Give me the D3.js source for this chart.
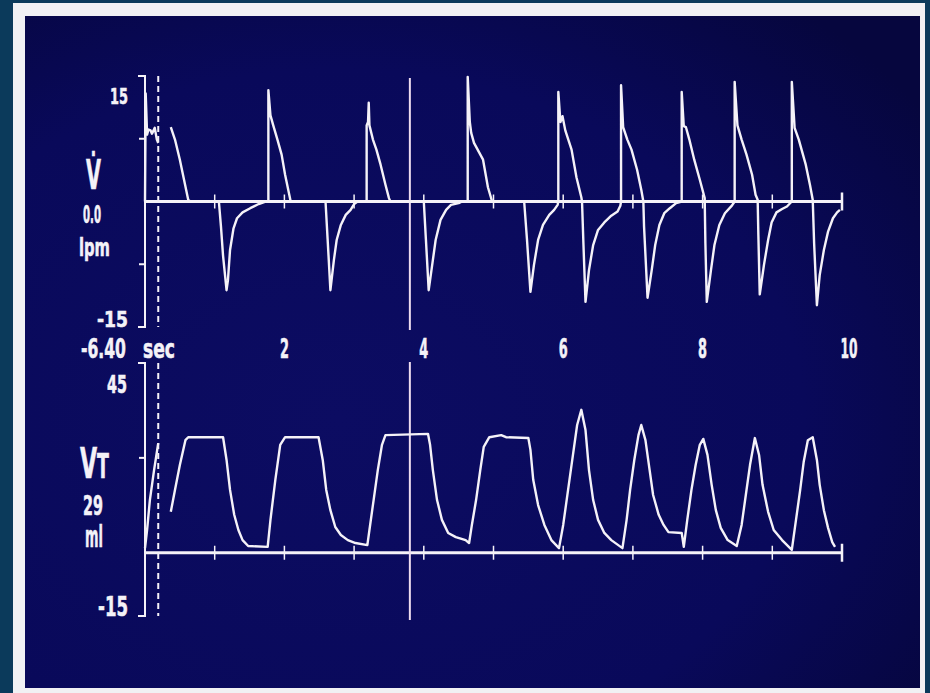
<!DOCTYPE html>
<html>
<head>
	<meta charset="utf-8" />
	<style>
		body {
			margin: 0;
			background-color: #0b3a5b;
			overflow: hidden;
		}
		svg {
			display: block;
		}
		.lbl {
			fill: #f4f2f8;
			stroke: #f4f2f8;
			stroke-width: 0.6;
			font-family: 'DejaVu Sans', sans-serif;
			font-weight: bold;
		}
	</style>
</head>
<body>
	<div id="chart-area"></div>

	<script src="https://cdnjs.cloudflare.com/ajax/libs/d3/7.8.5/d3.min.js"></script>

	<script>
		// time axis (sec) and the two y ranges
		const timeDomain = [0, 10];
		const timeLabels = [2, 4, 6, 8, 10];
		const secTicks = [1, 2, 3, 4, 5, 6, 7, 8, 9];
		const flowDomain = [-15, 15];
		const flowMidTicks = [-7.5, 7.5];
		const volDomain = [-15, 45];
		const volMidTicks = [22.5];
		const sweepTime = 0.19; // dashed line, where the trace is written
		const cursorTime = 3.8; // solid cursor line

		// flow (lpm): [sec, value]. freshly written part, then older sweep
		const flowNew = [
			[0.0, 0], [0.01, 12.9], [0.03, 8.0], [0.05, 8.6], [0.08, 8.5], [0.1, 8.1],
			[0.14, 8.8], [0.17, 7.4], [0.19, 7.0]
		];
		const flowOld = [
			[0.37, 8.9], [0.43, 7.4], [0.5, 5.0], [0.56, 2.6], [0.62, 0.2], [0.65, 0],
			[1.06, 0], [1.09, -3.0], [1.12, -6.5], [1.17, -10.6], [1.19, -9.4], [1.22, -5.8], [1.27, -3.2],
			[1.32, -2.0], [1.4, -1.3], [1.51, -0.8], [1.63, -0.3], [1.73, 0],
			[1.77, 0], [1.77, 13.3], [1.8, 10.3], [1.84, 9.1], [1.9, 7.4], [1.96, 5.6], [2.01, 3.2], [2.07, 0.8], [2.09, 0],
			[2.59, 0], [2.62, -4.5], [2.66, -10.6], [2.71, -7.0], [2.75, -4.6], [2.81, -2.8], [2.88, -1.6],
			[2.95, -1.0], [3.0, -0.3], [3.05, 0],
			[3.18, 0], [3.18, 9.1], [3.2, 9.5], [3.21, 11.8], [3.22, 9.1], [3.27, 7.4], [3.32, 6.2], [3.38, 4.4],
			[3.45, 2.0], [3.5, 0.4], [3.52, 0],
			[4.0, 0], [4.03, -4.5], [4.07, -10.6], [4.12, -7.6], [4.17, -4.6], [4.24, -2.2], [4.32, -1.0],
			[4.39, -0.4], [4.5, -0.2], [4.55, 0],
			[4.63, 0], [4.63, 14.9], [4.66, 9.5], [4.68, 8.2], [4.72, 7.0], [4.85, 5.0], [4.92, 1.7], [4.98, 0],
			[5.44, 0], [5.48, -4.5], [5.53, -10.8], [5.58, -7.6], [5.64, -4.6], [5.71, -2.8], [5.8, -1.6],
			[5.87, -1.0], [5.92, -0.4],
			[5.93, 0], [5.93, 13.1], [5.96, 9.5], [5.99, 10.2], [6.03, 8.5], [6.12, 6.2], [6.19, 2.9], [6.26, 0.5],
			[6.27, 0], [6.29, -5.0], [6.32, -12.0], [6.37, -8.2], [6.43, -5.2], [6.5, -3.4], [6.59, -2.5],
			[6.69, -1.7], [6.78, -1.2], [6.82, -0.5],
			[6.83, 0], [6.83, 13.9], [6.86, 8.9], [6.92, 7.4], [6.98, 6.2], [7.06, 3.8], [7.12, 1.4], [7.15, 0],
			[7.16, -3.0], [7.21, -11.5], [7.27, -8.2], [7.32, -5.2], [7.38, -2.8], [7.45, -1.4], [7.53, -0.8],
			[7.62, -0.2], [7.7, 0],
			[7.7, 13.1], [7.73, 9.0], [7.76, 8.9], [7.81, 7.4], [7.88, 5.0], [7.96, 2.6], [8.03, 0.4],
			[8.04, -5.0], [8.06, -12.0], [8.12, -8.2], [8.17, -5.2], [8.24, -2.8], [8.32, -1.4], [8.42, -0.5],
			[8.46, 0], [8.46, 14.3], [8.5, 9.1], [8.56, 7.4], [8.63, 5.6], [8.71, 3.2], [8.76, 0.8], [8.79, 0.2],
			[8.8, -4.0], [8.82, -11.1], [8.88, -7.6], [8.94, -4.6], [8.99, -2.5], [9.06, -1.3], [9.14, -0.9],
			[9.21, -0.6], [9.28, 0],
			[9.28, 14.3], [9.32, 8.8], [9.38, 7.4], [9.42, 6.2], [9.48, 4.4], [9.54, 2.0], [9.58, 0.2],
			[9.6, -5.0], [9.64, -12.4], [9.68, -8.8], [9.74, -5.8], [9.8, -3.6], [9.87, -2.0], [9.93, -1.3], [9.97, -1.0]
		];

		// tidal volume (ml): [sec, value]
		const volNew = [
			[0.0, 1.1], [0.03, 5.4], [0.07, 12.5], [0.13, 19.6], [0.19, 26.0]
		];
		const volOld = [
			[0.37, 9.7], [0.43, 14.9], [0.5, 20.8], [0.58, 26.7], [0.62, 27.4], [1.12, 27.4], [1.17, 22.0],
			[1.22, 14.9], [1.28, 9.0], [1.34, 5.4], [1.4, 3.0], [1.48, 1.6], [1.76, 1.4],
			[1.8, 7.8], [1.87, 17.3], [1.94, 25.6], [2.01, 27.4], [2.49, 27.4], [2.55, 22.0], [2.6, 14.9],
			[2.66, 10.1], [2.73, 6.1], [2.81, 4.2], [2.91, 3.0], [3.02, 2.3], [3.19, 1.8],
			[3.22, 5.4], [3.28, 12.5], [3.34, 19.6], [3.4, 25.6], [3.45, 27.9], [4.06, 28.2], [4.09, 25.6],
			[4.13, 19.6], [4.19, 12.5], [4.26, 7.8], [4.35, 4.7], [4.46, 3.7], [4.6, 3.0], [4.65, 2.3],
			[4.69, 6.6], [4.75, 12.5], [4.81, 19.6], [4.86, 25.1], [4.94, 27.4], [5.11, 27.9], [5.18, 27.4],
			[5.5, 27.2], [5.53, 24.4], [5.57, 17.3], [5.64, 11.3], [5.73, 6.6], [5.83, 3.0], [5.94, 1.1],
			[6.0, 6.6], [6.07, 14.9], [6.14, 23.2], [6.2, 30.3], [6.26, 33.9], [6.32, 29.1], [6.37, 19.6],
			[6.43, 12.5], [6.5, 7.8], [6.59, 4.7], [6.69, 3.0], [6.85, 1.1],
			[6.91, 7.8], [6.96, 14.9], [7.02, 22.0], [7.08, 27.9], [7.12, 30.3], [7.18, 26.7], [7.24, 19.6],
			[7.29, 13.7], [7.37, 9.0], [7.44, 6.6], [7.51, 4.9], [7.7, 4.7], [7.73, 1.4],
			[7.78, 7.8], [7.84, 14.9], [7.9, 20.8], [7.96, 25.6], [8.01, 27.0], [8.07, 23.2], [8.13, 16.1],
			[8.19, 10.1], [8.26, 5.9], [8.36, 3.0], [8.49, 1.6],
			[8.56, 6.6], [8.62, 13.7], [8.68, 20.8], [8.75, 27.2], [8.81, 23.2], [8.86, 16.1], [8.94, 9.7],
			[9.02, 5.4], [9.14, 3.0], [9.28, 0.7],
			[9.34, 7.8], [9.4, 14.9], [9.45, 21.5], [9.51, 26.7], [9.58, 27.4], [9.64, 22.0], [9.68, 16.1],
			[9.74, 10.1], [9.8, 5.9], [9.86, 2.5], [9.9, 1.4]
		];

		// readouts beside each panel
		const flowLabels = { top: '15', bottom: '-15', name: 'V\u0307', value: '0.0', unit: 'lpm' };
		const volLabels = { top: '45', bottom: '-15', name: 'V', sub: 'T', value: '29', unit: 'ml' };
		const timeStart = '-6.40';
		const timeUnit = 'sec';

		const W = 930,
			H = 693;
		const ink = '#f5f2f8';

		const svg = d3
			.select('#chart-area')
			.append('svg')
			.attr('width', W)
			.attr('height', H);

		// screen frame
		const defs = svg.append('defs');
		const grad = defs
			.append('radialGradient')
			.attr('id', 'scr')
			.attr('cx', '35%')
			.attr('cy', '60%')
			.attr('r', '80%');
		grad.append('stop').attr('offset', '0%').attr('stop-color', '#0c0c62');
		grad.append('stop').attr('offset', '65%').attr('stop-color', '#09095a');
		grad.append('stop').attr('offset', '100%').attr('stop-color', '#06063e');

		svg.append('rect').attr('width', W).attr('height', H).attr('fill', '#0b3a5b');
		svg.append('rect').attr('x', 13).attr('y', 3).attr('width', 912).attr('height', 690).attr('fill', '#f1f1f4');
		svg.append('rect').attr('x', 25).attr('y', 16).attr('width', 895).attr('height', 672).attr('fill', 'url(#scr)');

		const x = d3.scaleLinear().domain(timeDomain).range([145, 842]);
		const yFlow = d3.scaleLinear().domain(flowDomain).range([327, 76]);
		const yVol = d3.scaleLinear().domain(volDomain).range([616, 363]);

		// squeeze a text to width w, left edge x0, baseline at base
		function label(g, text, x0, w, base, size) {
			const t = g
				.append('text')
				.attr('class', 'lbl')
				.attr('font-size', size)
				.text(text);
			const sx = w / t.node().getComputedTextLength();
			t.attr('transform', `translate(${x0},${base}) scale(${sx},1)`);
			return t;
		}

		function panel(y, midTicks, traces, cursorExt) {
			const g = svg.append('g');
			const [lo, hi] = y.domain();

			// bracket axis on the left
			g.append('path')
				.attr('d', `M138,${y(hi)}H145V${y(lo)}H138`)
				.attr('fill', 'none')
				.attr('stroke', ink)
				.attr('stroke-width', 2);
			g.selectAll('.mid')
				.data(midTicks)
				.join('line')
				.attr('x1', 139)
				.attr('x2', 145)
				.attr('y1', d => y(d))
				.attr('y2', d => y(d))
				.attr('stroke', ink)
				.attr('stroke-width', 2);

			// zero line with second ticks
			const y0 = y(0);
			g.append('line')
				.attr('x1', x(0))
				.attr('x2', x(10))
				.attr('y1', y0)
				.attr('y2', y0)
				.attr('stroke', ink)
				.attr('stroke-width', 3);
			g.selectAll('.sec')
				.data(secTicks)
				.join('line')
				.attr('x1', d => x(d))
				.attr('x2', d => x(d))
				.attr('y1', y0 - 7)
				.attr('y2', y0 + 7)
				.attr('stroke', ink)
				.attr('stroke-width', 1.5);
			g.append('line')
				.attr('x1', x(10))
				.attr('x2', x(10))
				.attr('y1', y0 - 9)
				.attr('y2', y0 + 9)
				.attr('stroke', ink)
				.attr('stroke-width', 2.5);

			// sweep (dashed) and cursor lines
			g.append('line')
				.attr('x1', x(sweepTime))
				.attr('x2', x(sweepTime))
				.attr('y1', y(hi))
				.attr('y2', y(lo))
				.attr('stroke', ink)
				.attr('stroke-width', 2)
				.attr('stroke-dasharray', '6,4');
			g.append('line')
				.attr('x1', x(cursorTime))
				.attr('x2', x(cursorTime))
				.attr('y1', y(hi) + cursorExt[0])
				.attr('y2', y(lo) + cursorExt[1])
				.attr('stroke', '#eedcef')
				.attr('stroke-width', 2);

			const line = d3
				.line()
				.x(d => x(d[0]))
				.y(d => y(d[1]));

			g.selectAll('.trace')
				.data(traces)
				.join('path')
				.attr('d', line)
				.attr('fill', 'none')
				.attr('stroke', ink)
				.attr('stroke-width', 2.4)
				.attr('stroke-linejoin', 'round');
			return g;
		}

		const gFlow = panel(yFlow, flowMidTicks, [flowNew, flowOld], [2, 3]);
		const gVol = panel(yVol, volMidTicks, [volNew, volOld], [-1, 4]);

		// flow readouts
		label(gFlow, flowLabels.top, 110, 18, 104, 22);
		label(gFlow, flowLabels.name, 86, 15, 189, 40);
		label(gFlow, flowLabels.value, 83, 18, 223, 24);
		label(gFlow, flowLabels.unit, 79, 31, 256, 25);
		label(gFlow, flowLabels.bottom, 97, 31, 327, 21);

		// volume readouts: V with a smaller T
		label(gVol, volLabels.top, 107, 20, 393, 25);
		const vt = gVol
			.append('text')
			.attr('class', 'lbl')
			.attr('font-size', 42);
		vt.append('tspan').text(volLabels.name);
		vt.append('tspan').attr('font-size', 33).text(volLabels.sub);
		vt.attr(
			'transform',
			`translate(80,478) scale(${29 / vt.node().getComputedTextLength()},1)`
		);
		label(gVol, volLabels.value, 83, 20, 515, 26);
		label(gVol, volLabels.unit, 85, 18, 547, 31);
		label(gVol, volLabels.bottom, 98, 30, 616, 26);

		// time row between the panels
		const gTime = svg.append('g');
		label(gTime, timeStart, 81, 45, 358, 27);
		label(gTime, timeUnit, 143, 32, 358, 27);
		timeLabels.forEach(t => {
			const s = String(t);
			const w = s.length * 9 - (s.length - 1);
			const cx = t === 10 ? x(t) + 7 : x(t);
			label(gTime, s, cx - w / 2, w, 358, 27);
		});
	</script>
</body>
</html>
